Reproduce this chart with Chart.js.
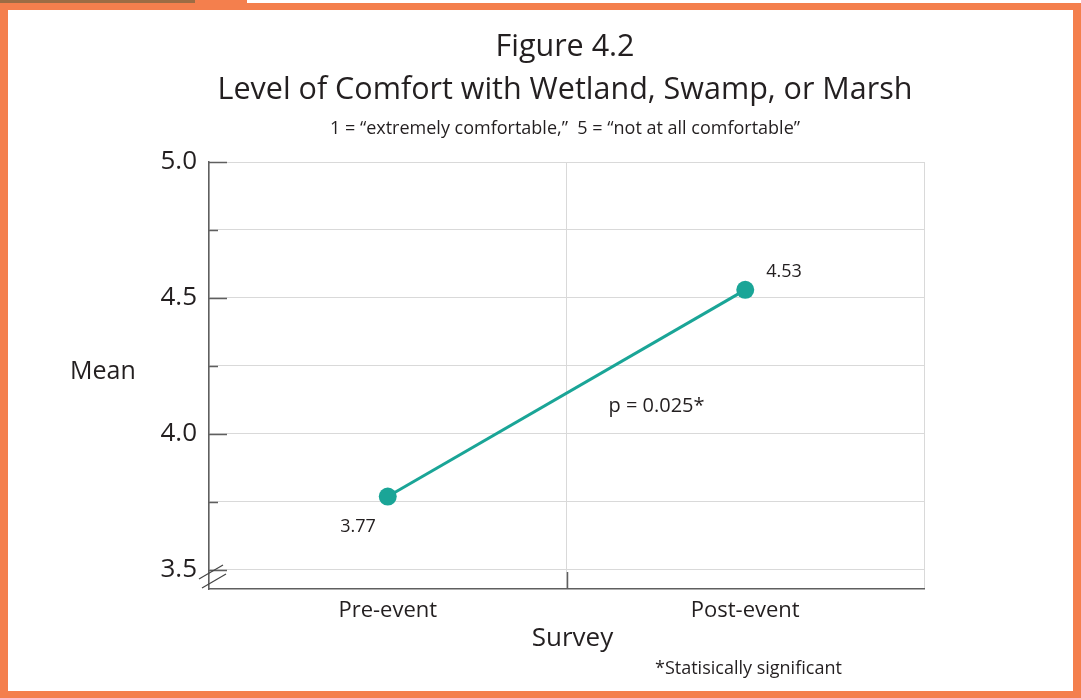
<!DOCTYPE html>
<html><head><meta charset="utf-8">
<script src="https://cdn.jsdelivr.net/npm/chart.js@4.4.1/dist/chart.umd.min.js"></script>
<style>
html,body{margin:0;padding:0;background:#fff;width:1081px;height:698px;overflow:hidden;}
#strip1{position:absolute;left:0;top:0;width:195px;height:3px;background:#9c6c44;}
#strip2{position:absolute;left:195px;top:0;width:52px;height:3px;background:#f47f4d;}
#frame{position:absolute;left:0;top:3px;width:1081px;height:695px;background:#f47f4d;}
#inner{position:absolute;left:8px;top:7px;width:1065px;height:681px;background:#fff;}
#wrap{position:absolute;left:0;top:0;width:1081px;height:698px;}
</style></head><body>
<div id="strip1"></div><div id="strip2"></div>
<div id="frame"><div id="inner"></div></div>
<div id="wrap"><canvas id="c" width="1081" height="698"></canvas></div>
<script>
const categories = ['Pre-event', 'Post-event'];
const meanValues = [3.77, 4.53];
const yTickValues = [3.5, 3.75, 4.0, 4.25, 4.5, 4.75, 5.0];
const yLabelValues = [3.5, 4.0, 4.5, 5.0];
const titleLines = ['Figure 4.2', 'Level of Comfort with Wetland, Swamp, or Marsh'];
const subtitleText = '1 = \u201Cextremely comfortable,\u201D  5 = \u201Cnot at all comfortable\u201D';
const yAxisLabel = 'Mean';
const xAxisLabel = 'Survey';
const significanceText = 'p = 0.025*';
const footnoteText = '*Statisically significant';

const FONT = "'Open Sans', 'Noto Sans', sans-serif";
const TEXT = '#231f20';
const TEAL = '#1aa597';
const GRID = '#d9d9d9';
const AXIS = '#5f5f5f';

Chart.defaults.font.family = FONT;
Chart.defaults.color = TEXT;

const extras = {
  id: 'extras',
  afterDraw(chart) {
    const ctx = chart.ctx;
    const a = chart.chartArea;
    const ys = chart.scales.y, xs = chart.scales.x;
    ctx.save();
    // inner tick marks on y axis
    ctx.strokeStyle = AXIS; ctx.lineWidth = 1.5;
    yTickValues.forEach(v => {
      const y = Math.round(ys.getPixelForValue(v)) + 0.5;
      const len = yLabelValues.includes(v) ? 18 : 9;
      ctx.beginPath(); ctx.moveTo(a.left, y); ctx.lineTo(a.left + len, y); ctx.stroke();
    });
    // inner tick at middle of x axis
    const midX = Math.round((xs.getPixelForTick(0) + xs.getPixelForTick(1)) / 2) + 0.5;
    ctx.beginPath(); ctx.moveTo(midX, a.bottom); ctx.lineTo(midX, a.bottom - 17); ctx.stroke();
    // axis break marks
    ctx.lineWidth = 1.2; ctx.strokeStyle = '#444';
    ctx.beginPath(); ctx.moveTo(a.left - 10, a.bottom - 10); ctx.lineTo(a.left + 14, a.bottom - 24); ctx.stroke();
    ctx.beginPath(); ctx.moveTo(a.left - 7, a.bottom - 1); ctx.lineTo(a.left + 17, a.bottom - 15); ctx.stroke();
    // text
    ctx.fillStyle = TEXT;
    ctx.textBaseline = 'middle';
    ctx.font = "25px " + FONT; ctx.textAlign = 'left';
    ctx.fillText(yAxisLabel, a.left - 139, (a.top + a.bottom) / 2 - 4);
    ctx.font = "26px " + FONT; ctx.textAlign = 'center';
    ctx.fillText(xAxisLabel, (a.left + a.right) / 2 + 6, a.bottom + 50);
    ctx.font = "18px " + FONT; ctx.textAlign = 'left';
    ctx.fillText(footnoteText, 655, a.bottom + 80);
    // data labels
    const meta = chart.getDatasetMeta(0);
    const p0 = meta.data[0], p1 = meta.data[1];
    ctx.font = "18px " + FONT;
    ctx.textAlign = 'right';
    ctx.fillText(meanValues[0].toFixed(2), p0.x - 12, p0.y + 30);
    ctx.textAlign = 'left';
    ctx.fillText(meanValues[1].toFixed(2), p1.x + 21, p1.y - 18);
    ctx.font = "20px " + FONT;
    ctx.fillText(significanceText, (p0.x + p1.x) / 2 + 42, (p0.y + p1.y) / 2 + 13);
    ctx.restore();
  }
};

new Chart(document.getElementById('c'), {
  type: 'line',
  data: {
    labels: categories,
    datasets: [{
      data: meanValues,
      borderColor: TEAL,
      backgroundColor: TEAL,
      borderWidth: 3,
      pointRadius: 9,
      pointBackgroundColor: TEAL,
      pointBorderWidth: 0,
      tension: 0,
      clip: false
    }]
  },
  options: {
    responsive: false,
    animation: false,
    events: [],
    layout: { autoPadding: false, padding: { left: 155, right: 106, top: 0, bottom: 0 } },
    plugins: {
      legend: { display: false },
      tooltip: { enabled: false },
      title: {
        display: true, text: titleLines, color: TEXT,
        font: { family: FONT, size: 30.5, weight: 'normal', lineHeight: 1.4 },
        padding: { top: 26, bottom: 7 }
      },
      subtitle: {
        display: true, text: subtitleText, color: TEXT,
        font: { family: FONT, size: 18, weight: 'normal', lineHeight: 1.2 },
        padding: { top: 0, bottom: 22 }
      }
    },
    scales: {
      x: {
        type: 'category',
        offset: true,
        grid: { offset: true, color: GRID, lineWidth: 1, drawTicks: false },
        border: { display: true, color: AXIS, width: 1.5 },
        ticks: { color: TEXT, font: { size: 22 }, padding: 9 },
        afterFit(s) { s.height = 109; }
      },
      y: {
        min: 3.43, max: 5.0,
        afterBuildTicks(s) { s.ticks = yTickValues.map(v => ({ value: v })); },
        ticks: {
          color: TEXT, font: { size: 26 }, padding: 12,
          callback(v) { return yLabelValues.includes(v) ? v.toFixed(1) : ''; }
        },
        grid: { color: GRID, lineWidth: 1, drawTicks: false },
        border: { display: true, color: AXIS, width: 1.5 },
        afterFit(s) { s.width = 54; }
      },
      yRight: {
        position: 'right',
        display: true,
        min: 3.43, max: 5.0,
        grid: { display: false, drawTicks: false },
        border: { display: false },
        ticks: { display: false },
        afterFit(s) { s.width = 51; }
      }
    }
  },
  plugins: [extras]
});
</script>
</body></html>
